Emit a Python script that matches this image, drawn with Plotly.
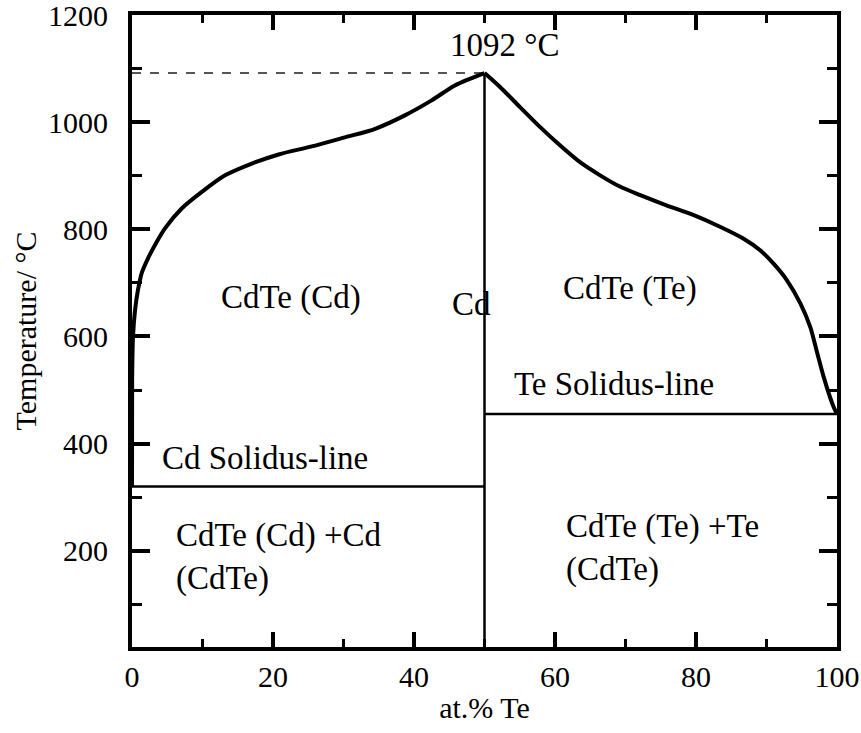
import plotly.graph_objects as go

# ---- data ----
# Cd-side liquidus (at.% Te, temperature °C)
liq_cd_x = [0.0, 0.02, 0.14, 0.43, 0.85, 1.42, 2.27, 3.26, 4.68, 7.05, 9.9, 13.2, 17.0,
            20.8, 25.5, 30.2, 34.5, 38.7, 42.5, 45.8, 50.0]
liq_cd_y = [320, 520, 599, 649, 687, 720, 746, 771, 802, 839, 870, 901, 923,
            940, 955, 972, 988, 1013, 1041, 1069, 1092]
# Te-side liquidus
liq_te_x = [50.0, 52.2, 55.0, 57.9, 60.7, 63.5, 66.4, 69.2, 72.1, 75.8, 79.6,
            83.4, 86.7, 89.1, 91.0, 92.9, 94.8, 96.2, 97.1, 98.1, 99.0, 99.6, 100.0]
liq_te_y = [1092, 1066, 1029, 991, 957, 926, 901, 880, 864, 845, 827,
            805, 783, 761, 736, 705, 662, 618, 574, 525, 487, 466, 455]
# CdTe congruent line
cdte_x = [50, 50]
cdte_y = [1092, 20]
# solidus lines
cd_sol_x = [0, 50]
cd_sol_y = [320, 320]
te_sol_x = [50, 100]
te_sol_y = [455, 455]
# melting-point guide
melt_x = [0, 50]
melt_y = [1092, 1092]

# region labels: (text, x, y, xanchor)
labels = [
    ("CdTe (Cd)", 22.6, 672, "center"),
    ("Cd", 48.1, 660, "center"),
    ("CdTe (Te)", 70.6, 690, "center"),
    ("Te Solidus-line", 68.4, 511, "center"),
    ("Cd Solidus-line", 18.9, 373, "center"),
    ("CdTe (Cd) +Cd<br>(CdTe)", 5.9, 188, "left"),
    ("CdTe (Te) +Te<br>(CdTe)", 61.3, 205, "left"),
    ("1092 °C", 52.9, 1144, "center"),
]

x_ticks = [0, 20, 40, 60, 80, 100]
y_ticks = [200, 400, 600, 800, 1000, 1200]

FONT = "Liberation Serif, Times New Roman, serif"

fig = go.Figure()
fig.add_trace(go.Scatter(x=melt_x, y=melt_y, mode="lines",
                         line=dict(color="#555555", width=2, dash="dash"),
                         showlegend=False, hoverinfo="skip"))
fig.add_trace(go.Scatter(x=liq_cd_x, y=liq_cd_y, mode="lines",
                         line=dict(color="black", width=4, shape="spline", smoothing=0.8),
                         showlegend=False))
fig.add_trace(go.Scatter(x=liq_te_x, y=liq_te_y, mode="lines",
                         line=dict(color="black", width=4, shape="spline", smoothing=0.8),
                         showlegend=False))
for xs, ys in [(cdte_x, cdte_y), (cd_sol_x, cd_sol_y), (te_sol_x, te_sol_y)]:
    fig.add_trace(go.Scatter(x=xs, y=ys, mode="lines",
                             line=dict(color="black", width=2.5),
                             showlegend=False))

for text, x, y, xa in labels:
    fig.add_annotation(x=x, y=y, text=text, showarrow=False, xanchor=xa,
                       yanchor="middle", align="left",
                       font=dict(family=FONT, size=33, color="black"))

axis_common = dict(showline=True, linecolor="black", linewidth=4, mirror="allticks",
                   ticks="inside", tickcolor="black", showgrid=False, zeroline=False,
                   ticklabeloverflow="allow",
                   tickfont=dict(family=FONT, size=30, color="black"))

fig.update_xaxes(range=[0, 100], tickvals=x_ticks, ticklen=15, tickwidth=3.5,
                 minor=dict(dtick=10, ticks="inside", ticklen=8, tickwidth=3,
                            tickcolor="black", showgrid=False),
                 ticklabelstandoff=0,
                 title=dict(text="at.% Te", font=dict(family=FONT, size=30, color="black"),
                            standoff=6),
                 **axis_common)
fig.update_yaxes(range=[20, 1200.5], tickvals=y_ticks, ticklen=18, tickwidth=3.5,
                 minor=dict(dtick=100, tick0=0, ticks="inside", ticklen=10, tickwidth=3,
                            tickcolor="black", showgrid=False),
                 ticklabelstandoff=14,
                 title=dict(text="Temperature/ °C", font=dict(family=FONT, size=30, color="black"),
                            standoff=4),
                 **axis_common)

fig.update_layout(width=861, height=733, margin=dict(l=132, r=24, t=15, b=86, autoexpand=False),
                  plot_bgcolor="white", paper_bgcolor="white", showlegend=False)

fig.write_html("out.html")
